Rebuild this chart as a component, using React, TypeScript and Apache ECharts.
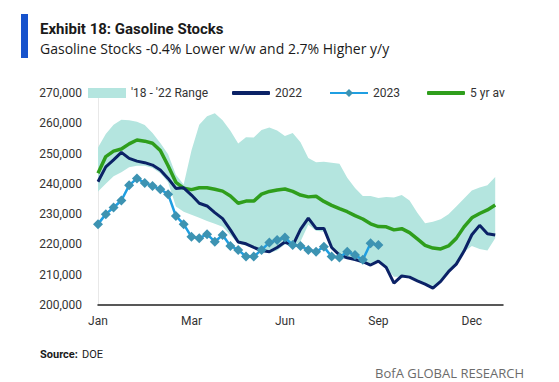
import { useEffect, useRef } from 'react';
import * as echarts from 'echarts';

const weekCount = 53;
const tickLabels = ['Jan', 'Mar', 'Jun', 'Sep', 'Dec'];
const tickEvery = 12;
const weeks = Array.from({ length: weekCount }, (_, i) => `W${i + 1}`);

const rangeMin = [
  237500, 240000, 242500, 243800, 245500, 246000, 246000, 245200, 243500, 240500,
  232500, 230800, 229800, 228800, 227700, 226800, 225800, 223000, 220300, 219600,
  218700, 217700, 217200, 218000, 220000, 219300, 221000, 226500, 224500, 224200,
  218300, 216000, 215300, 214700, 214000, 213000, 214200, 212200, 209300, 209300,
  209000, 207800, 206700, 205400, 207600, 210800, 213300, 217500, 219500, 218500,
  218000, 222000,
];
const rangeMax = [
  252000, 256500, 259500, 261200, 261000, 260500, 259400, 256800, 253500, 249800,
  243000, 239800, 251000, 259500, 262300, 263300, 261000, 257500, 253300, 255400,
  255300, 257800, 258600, 257600, 255800, 256800, 253700, 248500, 247100, 247300,
  247000, 246600, 242000, 238600, 236000, 236000, 235300, 235700, 235500, 236300,
  234500, 230500, 227000, 227500, 228300, 230000, 232500, 235200, 237800, 238800,
  239500, 242300,
];
const stocks2022 = [
  240700, 245600, 247900, 250400, 248400, 247500, 247000, 246200, 244600, 241800,
  238500, 238700, 236300, 233600, 232700, 230500, 228500, 224800, 220800, 220200,
  219000, 218000, 217600, 219000, 220800, 219600, 225000, 228700, 225300, 225300,
  219000, 216500, 215600, 215000, 214300, 213200, 214500, 212400, 207200, 209600,
  209200, 208000, 206900, 205600, 207800, 211000, 213500, 217800, 223200, 226300,
  223500, 223100,
];
const stocks2023 = [
  226700, 230000, 232200, 234500, 239500, 241800, 240300, 239300, 238200, 236600,
  229400, 226700, 222500, 222000, 223400, 220900, 223100, 219500, 218200, 216000,
  216000, 218200, 220600, 221500, 222300, 219800, 219500, 218200, 217600, 219200,
  216000, 215700, 217600, 216500, 214900, 220400, 219800,
];
const fiveYrAvg = [
  243500, 249000, 250800, 251500, 253200, 254500, 254100, 253400, 251000, 246000,
  240500, 238600, 238100, 238700, 238700, 238200, 237600, 236000, 233600, 234300,
  234300, 236600, 237500, 238000, 238300, 237500, 236300, 235700, 235900, 234200,
  232900, 231800, 230800, 229500, 228400, 226800, 225900, 225800, 224800, 225200,
  223900, 221800, 219700, 218800, 218500, 219500, 222000, 225800, 228800, 230200,
  231400, 233000,
];

const FONT = 'Roboto, "Noto Sans", sans-serif';
const WIDE = '"Open Sans", Roboto, sans-serif';
const TEAL = '#b4e5df';
const NAVY = '#0b2266';
const BLUE = '#1f9fe2';
const MARKER = '#3d93b2';
const GREEN = '#2f9e1c';

export default function App() {
  const ref = useRef<HTMLDivElement>(null);
  useEffect(() => {
    if (!ref.current) return;
    const chart = echarts.init(ref.current, undefined, { renderer: 'svg' });
    const legendText = { fontFamily: FONT, fontSize: 12, color: '#333' };
    const lg = { top: 87, padding: 0, itemWidth: 38, textStyle: legendText };
    chart.setOption({
      animation: false,
      textStyle: { fontFamily: FONT },
      grid: { left: 98, right: 56, top: 93, bottom: 77, containLabel: false },
      legend: [
        { ...lg, left: 88, itemHeight: 10, data: [{ name: "'18 - '22 Range", icon: 'rect', itemStyle: { color: TEAL } }] },
        { ...lg, left: 232, itemHeight: 4, data: [{ name: '2022', icon: 'roundRect' }] },
        { ...lg, left: 329, itemHeight: 10, data: ['2023'] },
        { ...lg, left: 427, itemHeight: 4, data: [{ name: '5 yr av', icon: 'roundRect' }] },
      ],
      xAxis: {
        type: 'category',
        data: weeks,
        boundaryGap: false,
        axisLine: { lineStyle: { color: '#222', width: 1.5 } },
        axisTick: { show: false },
        axisLabel: {
          interval: tickEvery - 1,
          color: '#333',
          fontSize: 12,
          fontFamily: FONT,
          margin: 10,
          formatter: (_v: string, i: number) => tickLabels[i / tickEvery] ?? '',
        },
        splitLine: { show: false },
      },
      yAxis: {
        type: 'value',
        min: 200000,
        max: 270000,
        interval: 10000,
        axisLine: { show: true, lineStyle: { color: '#e8e8e8', width: 1 } },
        axisTick: { show: false },
        splitLine: { show: false },
        axisLabel: {
          color: '#333',
          fontSize: 12,
          fontFamily: FONT,
          margin: 16,
          formatter: (v: number) => v.toLocaleString('en-US'),
        },
      },
      series: [
        {
          name: 'rangeBase',
          type: 'line',
          stack: 'range',
          data: rangeMin,
          symbol: 'none',
          lineStyle: { width: 0 },
          silent: true,
          z: 1,
        },
        {
          name: "'18 - '22 Range",
          type: 'line',
          stack: 'range',
          data: rangeMax.map((v, i) => v - rangeMin[i]),
          symbol: 'none',
          lineStyle: { width: 0 },
          itemStyle: { color: TEAL },
          areaStyle: { color: TEAL, opacity: 1 },
          z: 1,
        },
        {
          name: '5 yr av',
          type: 'line',
          data: fiveYrAvg,
          symbol: 'none',
          itemStyle: { color: GREEN },
          lineStyle: { color: GREEN, width: 3.5 },
          z: 3,
        },
        {
          name: '2022',
          type: 'line',
          data: stocks2022,
          symbol: 'none',
          itemStyle: { color: NAVY },
          lineStyle: { color: NAVY, width: 3 },
          z: 4,
        },
        {
          name: '2023',
          type: 'line',
          data: stocks2023,
          symbol: 'diamond',
          symbolSize: 10,
          showAllSymbol: true,
          itemStyle: { color: MARKER },
          lineStyle: { color: BLUE, width: 2.5 },
          z: 5,
        },
      ],
      graphic: [
        { type: 'rect', shape: { x: 21, y: 14, width: 7, height: 44 }, style: { fill: '#1652cc' } },
        { type: 'text', x: 40, y: 29, style: { text: 'Exhibit 18: Gasoline Stocks', font: `bold 15px ${FONT}`, fill: '#1a1a1a', textVerticalAlign: 'middle', verticalAlign: 'middle' } },
        { type: 'text', x: 40, y: 48, style: { text: 'Gasoline Stocks -0.4% Lower w/w and 2.7% Higher y/y', font: `14px ${WIDE}`, fill: '#1a1a1a', textVerticalAlign: 'middle', verticalAlign: 'middle' } },
        { type: 'text', x: 40, y: 354, style: { text: 'Source:', font: `bold 11px ${FONT}`, fill: '#1a1a1a', textVerticalAlign: 'middle', verticalAlign: 'middle' } },
        { type: 'text', x: 82, y: 354, style: { text: 'DOE', font: `11px ${FONT}`, fill: '#1a1a1a', textVerticalAlign: 'middle', verticalAlign: 'middle' } },
        { type: 'text', x: 524, y: 373, style: { text: 'BofA GLOBAL RESEARCH', font: `13px ${WIDE}`, fill: '#6b6b6b', textAlign: 'right', align: 'right', textVerticalAlign: 'middle', verticalAlign: 'middle' } },
      ],
    });
    return () => chart.dispose();
  }, []);
  return <div ref={ref} style={{ position: 'fixed', left: 0, top: 0, width: 559, height: 382, background: '#fff' }} />;
}
